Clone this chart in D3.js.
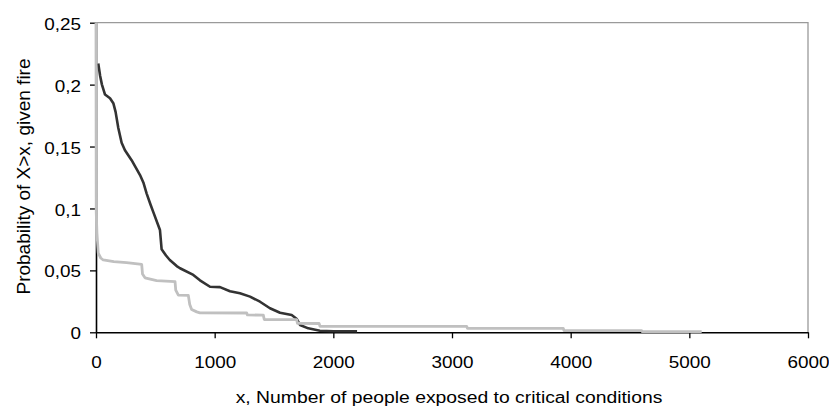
<!DOCTYPE html>
<html>
<head>
<meta charset="utf-8">
<script src="https://cdn.jsdelivr.net/npm/d3@7/dist/d3.min.js"></script>
<style>
  html, body { margin: 0; padding: 0; background: #fff; }
  svg text { font-family: "Liberation Sans", Arial, sans-serif; fill: #000; }
</style>
</head>
<body>
<svg id="chart" width="829" height="410"></svg>
<script>
// Exceedance curves: probability that more than x people are exposed, given a fire
const darkX = [19, 35, 50, 76, 118, 146, 165, 188, 216, 244, 300, 371, 399, 427, 460, 483, 539, 553, 590, 622, 680, 708, 820, 876, 961, 1045, 1129, 1213, 1298, 1382, 1466, 1551, 1649, 1690, 1719, 1789, 1887, 2000, 2200];
const darkP = [0.217, 0.207, 0.200, 0.192, 0.189, 0.185, 0.178, 0.165, 0.153, 0.147, 0.139, 0.127, 0.121, 0.112, 0.103, 0.097, 0.0826, 0.067, 0.062, 0.0584, 0.0535, 0.0517, 0.0463, 0.042, 0.0368, 0.0365, 0.0332, 0.0315, 0.0288, 0.0247, 0.0194, 0.0158, 0.014, 0.011, 0.0059, 0.0032, 0.0013, 0.0008, 0.0008];

const lightX = [0, 2, 8, 19, 40, 61, 150, 258, 385, 392, 413, 511, 666, 672, 694, 778, 790, 806, 849, 876, 1270, 1276, 1410, 1418, 1691, 1698, 1880, 1888, 3124, 3130, 3938, 3944, 4598, 4604, 5104];
const lightP = [0.25, 0.097, 0.08, 0.064, 0.060, 0.0584, 0.057, 0.0563, 0.0548, 0.047, 0.0440, 0.0418, 0.0409, 0.034, 0.0300, 0.0298, 0.0225, 0.0185, 0.0165, 0.0157, 0.0156, 0.0140, 0.0139, 0.0103, 0.0102, 0.0072, 0.0071, 0.0048, 0.0048, 0.0032, 0.0032, 0.0013, 0.0013, 0.0005, 0.0005];

const xTicks = [0, 1000, 2000, 3000, 4000, 5000, 6000];
const yTicks = [0, 0.05, 0.1, 0.15, 0.2, 0.25];
const yTickLabels = ["0", "0,05", "0,1", "0,15", "0,2", "0,25"];

const xTitle = "x, Number of people exposed to critical conditions";
const yTitle = "Probability of X>x, given fire";

const svg = d3.select("#chart");
const plot = { left: 96, right: 808, top: 22.7, bottom: 332.3 };

const x = d3.scaleLinear().domain([0, 6000]).range([plot.left, plot.right]);
const y = d3.scaleLinear().domain([0, 0.25]).range([plot.bottom, plot.top]);

// plot-area frame (grey) on top and right
svg.append("path")
  .attr("d", `M${plot.left},${plot.top}H${plot.right}V${plot.bottom}`)
  .attr("fill", "none").attr("stroke", "#9a9a9a").attr("stroke-width", 1.3);

// axes
const xAxis = d3.axisBottom(x).tickValues(xTicks).tickSize(6).tickSizeOuter(0).tickFormat(d3.format("d"));
const yAxis = d3.axisLeft(y).tickValues(yTicks).tickSize(6).tickSizeOuter(0)
  .tickFormat((d, i) => yTickLabels[i]);

const gx = svg.append("g").attr("transform", `translate(0,${plot.bottom})`).call(xAxis);
const gy = svg.append("g").attr("transform", `translate(${plot.left},0)`).call(yAxis);

[gx, gy].forEach(g => {
  g.select(".domain").attr("stroke", "#000").attr("stroke-width", 1.6);
  g.selectAll(".tick line").attr("stroke", "#000").attr("stroke-width", 1.3);
  g.selectAll(".tick text").attr("font-size", 16).attr("font-family", "Liberation Sans, Arial, sans-serif");
});

// widen tick labels horizontally
gx.selectAll(".tick text")
  .attr("y", 0).attr("dy", 0)
  .attr("transform", "translate(0,36) scale(1.18,1)");
gy.selectAll(".tick text")
  .attr("x", 0).attr("dy", "0.35em")
  .attr("transform", "translate(-15,1) scale(1.18,1)");

// series
const line = d3.line().x(d => x(d[0])).y(d => y(d[1]));
const dark = darkX.map((v, i) => [v, darkP[i]]);
const light = lightX.map((v, i) => [v, lightP[i]]);

svg.append("path").datum(dark)
  .attr("d", line).attr("fill", "none")
  .attr("stroke", "#333333").attr("stroke-width", 2.6).attr("stroke-linejoin", "round");

svg.append("path").datum(light)
  .attr("d", line).attr("fill", "none")
  .attr("stroke", "#c0c0c0").attr("stroke-width", 2.8).attr("stroke-linejoin", "round");

// axis titles
svg.append("text")
  .attr("transform", `translate(${(235 + 663) / 2},403) scale(1.18,1)`)
  .attr("text-anchor", "middle").attr("font-size", 16.4)
  .text(xTitle);

svg.append("text")
  .attr("transform", `translate(30,176.5) rotate(-90)`)
  .attr("text-anchor", "middle").attr("font-size", 19)
  .text(yTitle);
</script>
</body>
</html>
